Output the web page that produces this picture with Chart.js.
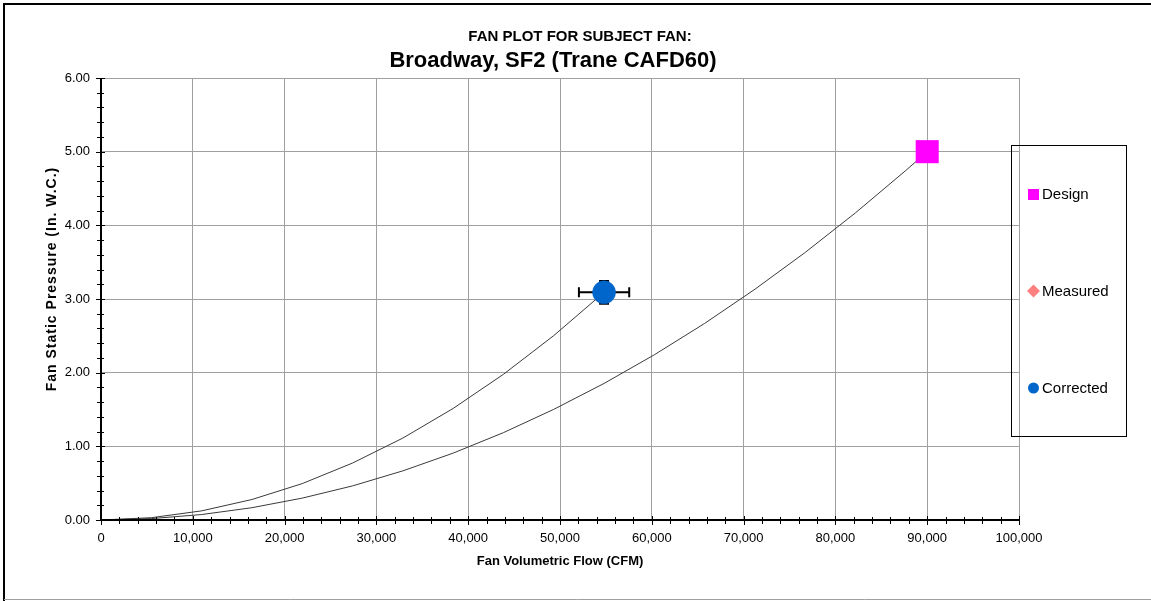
<!DOCTYPE html>
<html>
<head>
<meta charset="utf-8">
<title>Fan Plot</title>
<script src="https://cdn.jsdelivr.net/npm/chart.js@4.4.1/dist/chart.umd.min.js"></script>
<style>
  html, body { margin: 0; padding: 0; background: #ffffff; }
  #wrap { width: 1151px; height: 601px; position: relative; }
</style>
</head>
<body>
<div id="wrap"><canvas id="fanChart"></canvas></div>
<script>
// ---- Chart data ----
const titleLine1 = 'FAN PLOT FOR SUBJECT FAN:';
const titleLine2 = 'Broadway, SF2 (Trane CAFD60)';
const xAxisTitle = 'Fan Volumetric Flow (CFM)';
const yAxisTitle = 'Fan Static Pressure (In. W.C.)';

// System curve through the corrected operating point
const correctedCurveFlow = [0, 5480, 10960, 16440, 21920, 27400, 32880, 38360, 43840, 49320, 54800];
const correctedCurvePressure = [0, 0.031, 0.124, 0.278, 0.494, 0.773, 1.112, 1.514, 1.978, 2.503, 3.09];

// System curve through the design point
const designCurveFlow = [0, 5480, 10960, 16440, 21920, 27400, 32880, 38360, 43840, 49320, 54800,
                         60280, 65760, 71240, 76720, 82200, 87680, 90000];
const designCurvePressure = [0, 0.019, 0.074, 0.167, 0.297, 0.463, 0.667, 0.908, 1.186, 1.502, 1.854,
                             2.243, 2.669, 3.133, 3.633, 4.171, 4.746, 5.0];

// Operating points
const designFlow = [90000];
const designPressure = [5.0];
const measuredFlow = [];
const measuredPressure = [];
const correctedFlow = [54800];
const correctedPressure = [3.09];
const correctedFlowError = [2740];
const correctedPressureError = [0.155];

// Axis ranges
const xRange = [0, 100000];
const xStep = 10000;
const yRange = [0, 6];
const yStep = 1;

const legendLabels = ['Design', 'Measured', 'Corrected'];
const colors = { design: '#FF00FF', measured: '#FF8080', corrected: '#0066CC', curve: '#3a3a3a' };

const FONT = '"Liberation Sans", Arial, Helvetica, sans-serif';

function pairs(xs, ys) { return xs.map((x, i) => ({ x: x, y: ys[i] })); }

// Error bars for the corrected point, drawn beneath the markers
const errorBarPlugin = {
  id: 'errorBars',
  beforeDatasetsDraw(chart) {
    const { ctx, scales: { x, y } } = chart;
    ctx.save();
    ctx.strokeStyle = '#000';
    ctx.lineWidth = 2;
    correctedFlow.forEach((f, i) => {
      const px = x.getPixelForValue(f);
      const py = y.getPixelForValue(correctedPressure[i]);
      const x0 = x.getPixelForValue(f - correctedFlowError[i]);
      const x1 = x.getPixelForValue(f + correctedFlowError[i]);
      const y0 = y.getPixelForValue(correctedPressure[i] - correctedPressureError[i]);
      const y1 = y.getPixelForValue(correctedPressure[i] + correctedPressureError[i]);
      const cap = 5;
      ctx.beginPath();
      ctx.moveTo(x0, py); ctx.lineTo(x1, py);
      ctx.moveTo(x0, py - cap); ctx.lineTo(x0, py + cap);
      ctx.moveTo(x1, py - cap); ctx.lineTo(x1, py + cap);
      ctx.moveTo(px, y0); ctx.lineTo(px, y1);
      ctx.moveTo(px - cap, y0); ctx.lineTo(px + cap, y0);
      ctx.moveTo(px - cap, y1); ctx.lineTo(px + cap, y1);
      ctx.stroke();
    });
    ctx.restore();
  }
};

// Axis lines with crossing major/minor tick marks, titles, legend and frame
const decorPlugin = {
  id: 'decor',
  afterDraw(chart) {
    const { ctx, chartArea: a, scales: { x, y } } = chart;
    ctx.save();

    // axis lines
    ctx.strokeStyle = '#000';
    ctx.lineWidth = 2;
    ctx.beginPath();
    ctx.moveTo(a.left, a.top); ctx.lineTo(a.left, a.bottom + 1);
    ctx.moveTo(a.left - 1, a.bottom); ctx.lineTo(a.right, a.bottom);
    ctx.stroke();

    // tick marks
    ctx.lineWidth = 1;
    ctx.beginPath();
    const xMinor = xStep / 5;
    for (let v = xRange[0]; v <= xRange[1] + 1e-6; v += xMinor) {
      const px = Math.round(x.getPixelForValue(v)) + 0.5;
      const major = Math.abs(v / xStep - Math.round(v / xStep)) < 1e-6;
      ctx.moveTo(px, a.bottom - (major ? 4 : 3));
      ctx.lineTo(px, a.bottom + (major ? 5 : 4));
    }
    const yMinor = yStep / 5;
    for (let i = 0; i <= Math.round((yRange[1] - yRange[0]) / yMinor); i++) {
      const v = yRange[0] + i * yMinor;
      const py = Math.round(y.getPixelForValue(v)) + 0.5;
      const major = i % 5 === 0;
      ctx.moveTo(a.left - (major ? 5 : 4), py);
      ctx.lineTo(a.left + (major ? 4 : 3), py);
    }
    ctx.stroke();

    // titles
    ctx.fillStyle = '#000';
    ctx.textAlign = 'center';
    ctx.textBaseline = 'middle';
    ctx.font = 'bold 15px ' + FONT;
    ctx.fillText(titleLine1, 580, 37);
    ctx.font = 'bold 22px ' + FONT;
    ctx.fillText(titleLine2, 553, 61);

    // axis titles
    ctx.font = 'bold 13px ' + FONT;
    ctx.fillText(xAxisTitle, 560, 561);
    ctx.save();
    ctx.translate(52, 279);
    ctx.rotate(-Math.PI / 2);
    ctx.font = 'bold 14px ' + FONT;
    ctx.letterSpacing = '1px';
    ctx.fillText(yAxisTitle, 0, 0);
    ctx.restore();

    // legend
    ctx.strokeStyle = '#000';
    ctx.lineWidth = 1;
    ctx.strokeRect(1011.5, 145.5, 115, 291);
    const rows = [194.5, 291, 388];
    const symX = 1033.5;
    ctx.font = '15px ' + FONT;
    ctx.textAlign = 'left';
    // Design square
    ctx.fillStyle = colors.design;
    ctx.fillRect(symX - 5.5, rows[0] - 5.5, 11, 11);
    // Measured diamond
    ctx.fillStyle = colors.measured;
    ctx.beginPath();
    ctx.moveTo(symX, rows[1] - 6.5); ctx.lineTo(symX + 6.5, rows[1]);
    ctx.lineTo(symX, rows[1] + 6.5); ctx.lineTo(symX - 6.5, rows[1]);
    ctx.closePath(); ctx.fill();
    // Corrected circle
    ctx.fillStyle = colors.corrected;
    ctx.beginPath(); ctx.arc(symX, rows[2], 5.5, 0, Math.PI * 2); ctx.fill();
    ctx.fillStyle = '#000';
    legendLabels.forEach((t, i) => ctx.fillText(t, 1042, rows[i] + 0.5));

    // outer frame
    ctx.strokeStyle = '#000';
    ctx.lineWidth = 2;
    ctx.beginPath();
    ctx.moveTo(4, 601); ctx.lineTo(4, 4); ctx.lineTo(1151, 4);
    ctx.stroke();
    ctx.strokeStyle = '#a0a0a0';
    ctx.lineWidth = 1;
    ctx.beginPath();
    ctx.moveTo(4, 599.5); ctx.lineTo(1151, 599.5);
    ctx.stroke();

    ctx.restore();
  }
};

new Chart(document.getElementById('fanChart'), {
  type: 'scatter',
  data: {
    datasets: [
      {
        label: 'Corrected',
        data: pairs(correctedFlow, correctedPressure),
        pointStyle: 'circle',
        pointRadius: 11.5,
        backgroundColor: colors.corrected,
        borderColor: '#0060c0',
        borderWidth: 0.5,
        order: 1
      },
      {
        label: 'Measured',
        data: pairs(measuredFlow, measuredPressure),
        pointStyle: 'rectRot',
        pointRadius: 8,
        backgroundColor: colors.measured,
        borderWidth: 0,
        order: 2
      },
      {
        label: 'Design',
        data: pairs(designFlow, designPressure),
        pointStyle: 'rect',
        pointRadius: 16.3,
        backgroundColor: colors.design,
        borderWidth: 0,
        order: 3
      },
      {
        label: 'Corrected system curve',
        data: pairs(correctedCurveFlow, correctedCurvePressure),
        showLine: true,
        borderColor: colors.curve,
        borderWidth: 1,
        pointRadius: 0,
        tension: 0,
        order: 4
      },
      {
        label: 'Design system curve',
        data: pairs(designCurveFlow, designCurvePressure),
        showLine: true,
        borderColor: colors.curve,
        borderWidth: 1,
        pointRadius: 0,
        tension: 0,
        order: 5
      }
    ]
  },
  options: {
    responsive: true,
    maintainAspectRatio: false,
    animation: false,
    layout: { padding: { top: 78, right: 132, bottom: 0, left: 0 } },
    plugins: {
      legend: { display: false },
      tooltip: { enabled: false },
      title: { display: false }
    },
    scales: {
      x: {
        type: 'linear',
        min: xRange[0],
        max: xRange[1],
        afterFit(s) { s.height = 81; },
        ticks: {
          stepSize: xStep,
          padding: 11,
          color: '#000',
          font: { family: FONT, size: 13 },
          maxRotation: 0,
          callback: v => Number(v).toLocaleString('en-US')
        },
        grid: { color: '#a0a0a0', lineWidth: 1, drawTicks: false },
        border: { display: false }
      },
      y: {
        type: 'linear',
        min: yRange[0],
        max: yRange[1],
        afterFit(s) { s.width = 101; },
        ticks: {
          stepSize: yStep,
          padding: 11,
          color: '#000',
          font: { family: FONT, size: 13 },
          callback: v => Number(v).toFixed(2)
        },
        grid: { color: '#a0a0a0', lineWidth: 1, drawTicks: false },
        border: { display: false }
      }
    }
  },
  plugins: [errorBarPlugin, decorPlugin]
});
</script>
</body>
</html>
